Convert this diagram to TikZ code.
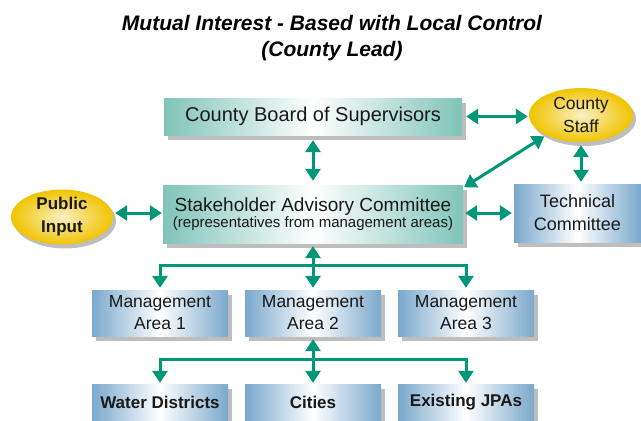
\documentclass[tikz,border=0pt]{standalone}
\usepackage{fontspec}
\setmainfont{Liberation Sans}
\usetikzlibrary{arrows.meta,shapes.geometric,shadows}
\definecolor{tealedge}{RGB}{128,196,184}
\definecolor{blueedge}{RGB}{122,168,204}
\definecolor{ylwout}{RGB}{240,196,0}
\definecolor{ylwin}{RGB}{250,240,195}
\definecolor{shadowgray}{RGB}{190,190,190}
\definecolor{arrowgreen}{RGB}{0,150,120}
\definecolor{inktext}{RGB}{25,25,25}
\newcommand{\fsz}[2]{\fontsize{#1}{#2}\selectfont}
\begin{document}
\begin{tikzpicture}[x=1pt,y=-1pt,
  box/.style={rectangle, inner sep=0pt, align=center, text=inktext,
    drop shadow={shadow xshift=4pt, shadow yshift=-5pt, fill=shadowgray, opacity=1}},
  tealbox/.style={box, left color=tealedge, right color=tealedge, middle color=white},
  bluebox/.style={box, left color=blueedge, right color=blueedge, middle color=white},
  oval/.style={ellipse, inner sep=0pt, align=center, text=inktext,
    inner color=ylwin, outer color=ylwout,
    drop shadow={shadow xshift=3pt, shadow yshift=-4pt, fill=shadowgray, opacity=1}},
  link/.style={draw=arrowgreen, line width=3pt,
    {Triangle[width=15pt,length=12pt]}-{Triangle[width=15pt,length=12pt]}},
  tipline/.style={draw=arrowgreen, line width=3pt, -{Triangle[width=15pt,length=12pt]}},
  mgmt/.style={bluebox, minimum width=136pt, minimum height=46pt, font=\fsz{17.5}{22}},
  lower/.style={bluebox, minimum width=136pt, minimum height=37pt, font=\fsz{17}{20}\bfseries}
]
\useasboundingbox (0,0) rectangle (641,421);
\fill[white] (0,0) rectangle (641,421);

\node[font=\fsz{21}{26}\bfseries\itshape, align=center, anchor=base, text=black] (title) at (332,56)
  {Mutual Interest - Based with Local Control\\(County Lead)};

\node[tealbox, minimum width=298pt, minimum height=37pt, font=\fsz{20}{24}] (board) at (313,116.5)
  {County Board of Supervisors};
\node[tealbox, minimum width=300pt, minimum height=58pt] (sac) at (313,214)
  {{\fsz{19}{21}Stakeholder Advisory Committee}\\{\fsz{15}{21}(representatives from management areas)}};
\node[oval, minimum width=104pt, minimum height=54pt, font=\fsz{17.5}{23}] (staff) at (581,115)
  {County\\Staff};
\node[oval, minimum width=102pt, minimum height=50pt, font=\fsz{17}{23}\bfseries] (public) at (62,217)
  {Public\\Input};
\node[bluebox, minimum width=127pt, minimum height=58pt, font=\fsz{18}{23}] (tech) at (577.5,213)
  {Technical\\Committee};

\node[mgmt] (ma1) at (160,313) {Management\\Area 1};
\node[mgmt] (ma2) at (313,313) {Management\\Area 2};
\node[mgmt] (ma3) at (466,313) {Management\\Area 3};

\node[lower] (wd) at (160,402.5) {Water Districts};
\node[lower] (cities) at (313,402.5) {Cities};
\node[lower] (jpa) at (466,402.5) {Existing JPAs};

% connectors
\draw[link, shorten <=5pt, shorten >=4pt] (board.south) -- (sac.north);
\draw[link, shorten <=4pt, shorten >=1pt] (board.east) -- (board.east -| staff.west);
\draw[link, shorten <=1pt, shorten >=2pt] ([yshift=-3pt]sac.north east) -- (staff.210);
\draw[link, shorten <=3pt, shorten >=2pt] (staff.south) -- (staff.south |- tech.north);
\draw[link, shorten <=2pt, shorten >=2pt] ([yshift=1pt]sac.east) -- ([yshift=1pt]sac.east -| tech.west);
\draw[link, shorten <=2pt, shorten >=1pt] ([yshift=1pt]sac.west -| public.east) -- ([yshift=1pt]sac.west);

\coordinate (j1) at (313,265);
\draw[tipline, shorten >=3pt] (j1) -- (sac.south);
\draw[tipline, shorten >=2pt] (j1) -- (ma2.north);
\draw[tipline, shorten >=2pt] (j1) -| (ma1.north);
\draw[tipline, shorten >=2pt] (j1) -| (ma3.north);

\coordinate (j2) at (313,359);
\draw[tipline, shorten >=3pt] (j2) -- (ma2.south);
\draw[tipline, shorten >=1pt] (j2) -- (cities.north);
\draw[tipline, shorten >=1pt] (j2) -| (wd.north);
\draw[tipline, shorten >=1pt] (j2) -| (jpa.north);
\end{tikzpicture}
\end{document}
